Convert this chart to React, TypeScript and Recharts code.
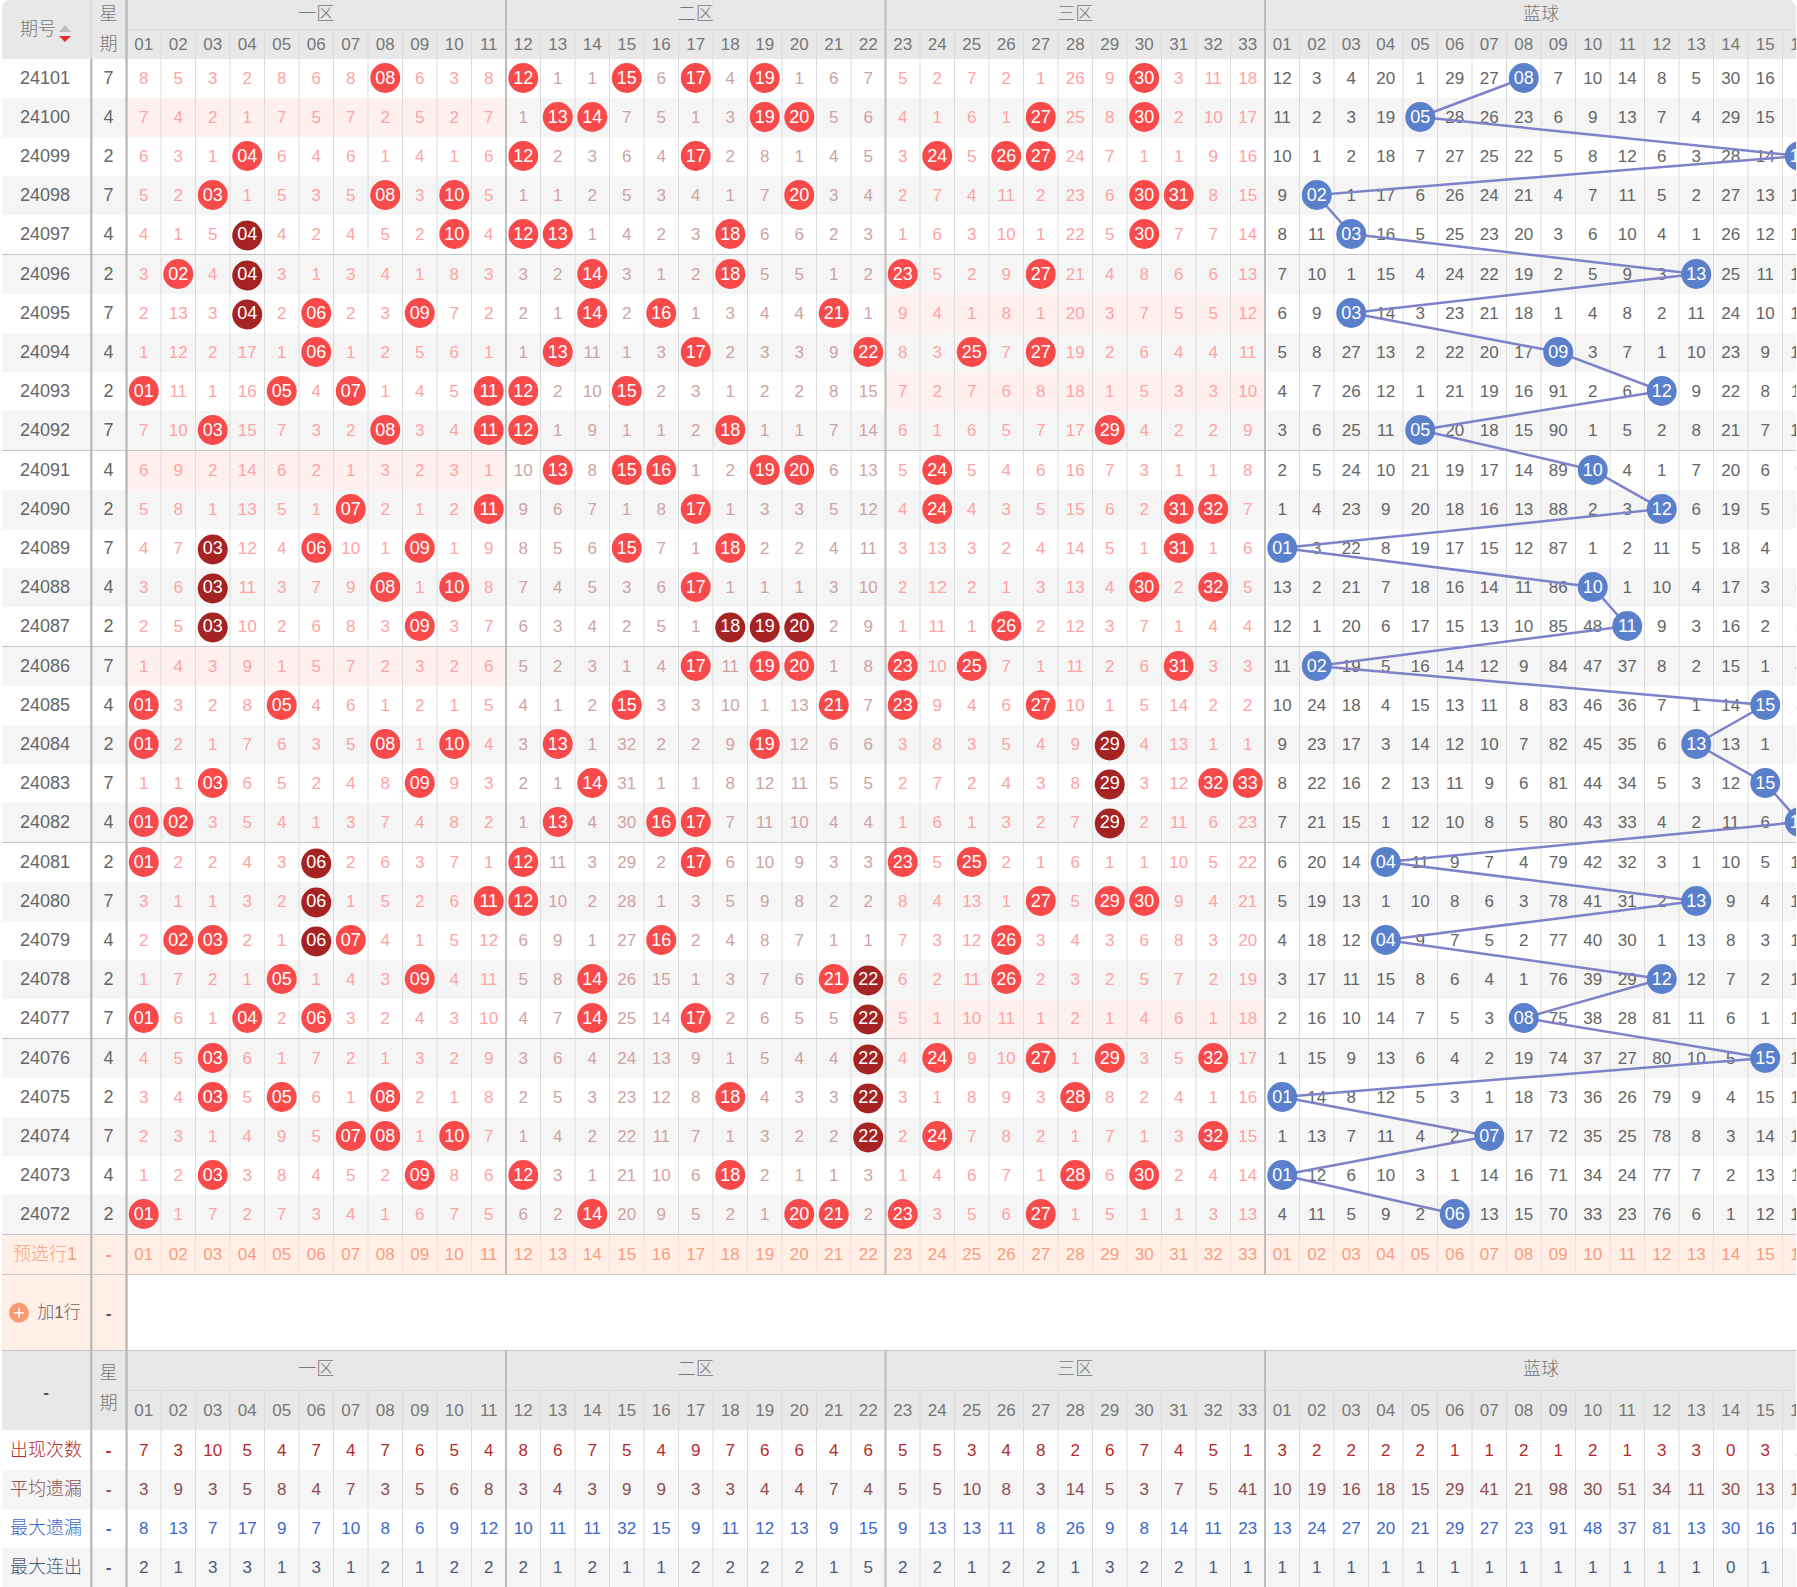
import { ScatterChart, Scatter, XAxis, YAxis, ReferenceArea, ReferenceLine } from 'recharts'

const issues = [24101, 24100, 24099, 24098, 24097, 24096, 24095, 24094, 24093, 24092, 24091, 24090, 24089, 24088, 24087, 24086, 24085, 24084, 24083, 24082, 24081, 24080, 24079, 24078, 24077, 24076, 24075, 24074, 24073, 24072]
const weekdays = [7, 4, 2, 7, 4, 2, 7, 4, 2, 7, 4, 2, 7, 4, 2, 7, 4, 2, 7, 4, 2, 7, 4, 2, 7, 4, 2, 7, 4, 2]

// missed-draw counts per issue, 0 means the number was drawn (a ball)
const zone1Rows = [
  [8, 5, 3, 2, 8, 6, 8, 0, 6, 3, 8],
  [7, 4, 2, 1, 7, 5, 7, 2, 5, 2, 7],
  [6, 3, 1, 0, 6, 4, 6, 1, 4, 1, 6],
  [5, 2, 0, 1, 5, 3, 5, 0, 3, 0, 5],
  [4, 1, 5, 0, 4, 2, 4, 5, 2, 0, 4],
  [3, 0, 4, 0, 3, 1, 3, 4, 1, 8, 3],
  [2, 13, 3, 0, 2, 0, 2, 3, 0, 7, 2],
  [1, 12, 2, 17, 1, 0, 1, 2, 5, 6, 1],
  [0, 11, 1, 16, 0, 4, 0, 1, 4, 5, 0],
  [7, 10, 0, 15, 7, 3, 2, 0, 3, 4, 0],
  [6, 9, 2, 14, 6, 2, 1, 3, 2, 3, 1],
  [5, 8, 1, 13, 5, 1, 0, 2, 1, 2, 0],
  [4, 7, 0, 12, 4, 0, 10, 1, 0, 1, 9],
  [3, 6, 0, 11, 3, 7, 9, 0, 1, 0, 8],
  [2, 5, 0, 10, 2, 6, 8, 3, 0, 3, 7],
  [1, 4, 3, 9, 1, 5, 7, 2, 3, 2, 6],
  [0, 3, 2, 8, 0, 4, 6, 1, 2, 1, 5],
  [0, 2, 1, 7, 6, 3, 5, 0, 1, 0, 4],
  [1, 1, 0, 6, 5, 2, 4, 8, 0, 9, 3],
  [0, 0, 3, 5, 4, 1, 3, 7, 4, 8, 2],
  [0, 2, 2, 4, 3, 0, 2, 6, 3, 7, 1],
  [3, 1, 1, 3, 2, 0, 1, 5, 2, 6, 0],
  [2, 0, 0, 2, 1, 0, 0, 4, 1, 5, 12],
  [1, 7, 2, 1, 0, 1, 4, 3, 0, 4, 11],
  [0, 6, 1, 0, 2, 0, 3, 2, 4, 3, 10],
  [4, 5, 0, 6, 1, 7, 2, 1, 3, 2, 9],
  [3, 4, 0, 5, 0, 6, 1, 0, 2, 1, 8],
  [2, 3, 1, 4, 9, 5, 0, 0, 1, 0, 7],
  [1, 2, 0, 3, 8, 4, 5, 2, 0, 8, 6],
  [0, 1, 7, 2, 7, 3, 4, 1, 6, 7, 5],
]

const zone2Rows = [
  [0, 1, 1, 0, 6, 0, 4, 0, 1, 6, 7],
  [1, 0, 0, 7, 5, 1, 3, 0, 0, 5, 6],
  [0, 2, 3, 6, 4, 0, 2, 8, 1, 4, 5],
  [1, 1, 2, 5, 3, 4, 1, 7, 0, 3, 4],
  [0, 0, 1, 4, 2, 3, 0, 6, 6, 2, 3],
  [3, 2, 0, 3, 1, 2, 0, 5, 5, 1, 2],
  [2, 1, 0, 2, 0, 1, 3, 4, 4, 0, 1],
  [1, 0, 11, 1, 3, 0, 2, 3, 3, 9, 0],
  [0, 2, 10, 0, 2, 3, 1, 2, 2, 8, 15],
  [0, 1, 9, 1, 1, 2, 0, 1, 1, 7, 14],
  [10, 0, 8, 0, 0, 1, 2, 0, 0, 6, 13],
  [9, 6, 7, 1, 8, 0, 1, 3, 3, 5, 12],
  [8, 5, 6, 0, 7, 1, 0, 2, 2, 4, 11],
  [7, 4, 5, 3, 6, 0, 1, 1, 1, 3, 10],
  [6, 3, 4, 2, 5, 1, 0, 0, 0, 2, 9],
  [5, 2, 3, 1, 4, 0, 11, 0, 0, 1, 8],
  [4, 1, 2, 0, 3, 3, 10, 1, 13, 0, 7],
  [3, 0, 1, 32, 2, 2, 9, 0, 12, 6, 6],
  [2, 1, 0, 31, 1, 1, 8, 12, 11, 5, 5],
  [1, 0, 4, 30, 0, 0, 7, 11, 10, 4, 4],
  [0, 11, 3, 29, 2, 0, 6, 10, 9, 3, 3],
  [0, 10, 2, 28, 1, 3, 5, 9, 8, 2, 2],
  [6, 9, 1, 27, 0, 2, 4, 8, 7, 1, 1],
  [5, 8, 0, 26, 15, 1, 3, 7, 6, 0, 0],
  [4, 7, 0, 25, 14, 0, 2, 6, 5, 5, 0],
  [3, 6, 4, 24, 13, 9, 1, 5, 4, 4, 0],
  [2, 5, 3, 23, 12, 8, 0, 4, 3, 3, 0],
  [1, 4, 2, 22, 11, 7, 1, 3, 2, 2, 0],
  [0, 3, 1, 21, 10, 6, 0, 2, 1, 1, 3],
  [6, 2, 0, 20, 9, 5, 2, 1, 0, 0, 2],
]

const zone3Rows = [
  [5, 2, 7, 2, 1, 26, 9, 0, 3, 11, 18],
  [4, 1, 6, 1, 0, 25, 8, 0, 2, 10, 17],
  [3, 0, 5, 0, 0, 24, 7, 1, 1, 9, 16],
  [2, 7, 4, 11, 2, 23, 6, 0, 0, 8, 15],
  [1, 6, 3, 10, 1, 22, 5, 0, 7, 7, 14],
  [0, 5, 2, 9, 0, 21, 4, 8, 6, 6, 13],
  [9, 4, 1, 8, 1, 20, 3, 7, 5, 5, 12],
  [8, 3, 0, 7, 0, 19, 2, 6, 4, 4, 11],
  [7, 2, 7, 6, 8, 18, 1, 5, 3, 3, 10],
  [6, 1, 6, 5, 7, 17, 0, 4, 2, 2, 9],
  [5, 0, 5, 4, 6, 16, 7, 3, 1, 1, 8],
  [4, 0, 4, 3, 5, 15, 6, 2, 0, 0, 7],
  [3, 13, 3, 2, 4, 14, 5, 1, 0, 1, 6],
  [2, 12, 2, 1, 3, 13, 4, 0, 2, 0, 5],
  [1, 11, 1, 0, 2, 12, 3, 7, 1, 4, 4],
  [0, 10, 0, 7, 1, 11, 2, 6, 0, 3, 3],
  [0, 9, 4, 6, 0, 10, 1, 5, 14, 2, 2],
  [3, 8, 3, 5, 4, 9, 0, 4, 13, 1, 1],
  [2, 7, 2, 4, 3, 8, 0, 3, 12, 0, 0],
  [1, 6, 1, 3, 2, 7, 0, 2, 11, 6, 23],
  [0, 5, 0, 2, 1, 6, 1, 1, 10, 5, 22],
  [8, 4, 13, 1, 0, 5, 0, 0, 9, 4, 21],
  [7, 3, 12, 0, 3, 4, 3, 6, 8, 3, 20],
  [6, 2, 11, 0, 2, 3, 2, 5, 7, 2, 19],
  [5, 1, 10, 11, 1, 2, 1, 4, 6, 1, 18],
  [4, 0, 9, 10, 0, 1, 0, 3, 5, 0, 17],
  [3, 1, 8, 9, 3, 0, 8, 2, 4, 1, 16],
  [2, 0, 7, 8, 2, 1, 7, 1, 3, 0, 15],
  [1, 4, 6, 7, 1, 0, 6, 0, 2, 4, 14],
  [0, 3, 5, 6, 0, 1, 5, 1, 1, 3, 13],
]

const blueRows = [
  [12, 3, 4, 20, 1, 29, 27, 0, 7, 10, 14, 8, 5, 30, 16, 2],
  [11, 2, 3, 19, 0, 28, 26, 23, 6, 9, 13, 7, 4, 29, 15, 1],
  [10, 1, 2, 18, 7, 27, 25, 22, 5, 8, 12, 6, 3, 28, 14, 0],
  [9, 0, 1, 17, 6, 26, 24, 21, 4, 7, 11, 5, 2, 27, 13, 16],
  [8, 11, 0, 16, 5, 25, 23, 20, 3, 6, 10, 4, 1, 26, 12, 15],
  [7, 10, 1, 15, 4, 24, 22, 19, 2, 5, 9, 3, 0, 25, 11, 14],
  [6, 9, 0, 14, 3, 23, 21, 18, 1, 4, 8, 2, 11, 24, 10, 13],
  [5, 8, 27, 13, 2, 22, 20, 17, 0, 3, 7, 1, 10, 23, 9, 12],
  [4, 7, 26, 12, 1, 21, 19, 16, 91, 2, 6, 0, 9, 22, 8, 11],
  [3, 6, 25, 11, 0, 20, 18, 15, 90, 1, 5, 2, 8, 21, 7, 10],
  [2, 5, 24, 10, 21, 19, 17, 14, 89, 0, 4, 1, 7, 20, 6, 9],
  [1, 4, 23, 9, 20, 18, 16, 13, 88, 2, 3, 0, 6, 19, 5, 8],
  [0, 3, 22, 8, 19, 17, 15, 12, 87, 1, 2, 11, 5, 18, 4, 7],
  [13, 2, 21, 7, 18, 16, 14, 11, 86, 0, 1, 10, 4, 17, 3, 6],
  [12, 1, 20, 6, 17, 15, 13, 10, 85, 48, 0, 9, 3, 16, 2, 5],
  [11, 0, 19, 5, 16, 14, 12, 9, 84, 47, 37, 8, 2, 15, 1, 4],
  [10, 24, 18, 4, 15, 13, 11, 8, 83, 46, 36, 7, 1, 14, 0, 3],
  [9, 23, 17, 3, 14, 12, 10, 7, 82, 45, 35, 6, 0, 13, 1, 2],
  [8, 22, 16, 2, 13, 11, 9, 6, 81, 44, 34, 5, 3, 12, 0, 1],
  [7, 21, 15, 1, 12, 10, 8, 5, 80, 43, 33, 4, 2, 11, 6, 0],
  [6, 20, 14, 0, 11, 9, 7, 4, 79, 42, 32, 3, 1, 10, 5, 19],
  [5, 19, 13, 1, 10, 8, 6, 3, 78, 41, 31, 2, 0, 9, 4, 18],
  [4, 18, 12, 0, 9, 7, 5, 2, 77, 40, 30, 1, 13, 8, 3, 17],
  [3, 17, 11, 15, 8, 6, 4, 1, 76, 39, 29, 0, 12, 7, 2, 16],
  [2, 16, 10, 14, 7, 5, 3, 0, 75, 38, 28, 81, 11, 6, 1, 15],
  [1, 15, 9, 13, 6, 4, 2, 19, 74, 37, 27, 80, 10, 5, 0, 14],
  [0, 14, 8, 12, 5, 3, 1, 18, 73, 36, 26, 79, 9, 4, 15, 13],
  [1, 13, 7, 11, 4, 2, 0, 17, 72, 35, 25, 78, 8, 3, 14, 12],
  [0, 12, 6, 10, 3, 1, 14, 16, 71, 34, 24, 77, 7, 2, 13, 11],
  [4, 11, 5, 9, 2, 0, 13, 15, 70, 33, 23, 76, 6, 1, 12, 10],
]

// [issue, red number] drawn as a dark ball
const darkBalls = [[24097, 4], [24096, 4], [24095, 4], [24089, 3], [24088, 3], [24087, 3], [24087, 18], [24087, 19], [24087, 20], [24084, 29], [24083, 29], [24082, 29], [24081, 6], [24080, 6], [24079, 6], [24078, 22], [24077, 22], [24076, 22], [24075, 22], [24074, 22]]

const redNumbers = ['01', '02', '03', '04', '05', '06', '07', '08', '09', '10', '11', '12', '13', '14', '15', '16', '17', '18', '19', '20', '21', '22', '23', '24', '25', '26', '27', '28', '29', '30', '31', '32', '33']
const blueNumbers = ['01', '02', '03', '04', '05', '06', '07', '08', '09', '10', '11', '12', '13', '14', '15', '16']
const zoneNames = ['一区', '二区', '三区', '蓝球']

const statLabels = ['出现次数', '平均遗漏', '最大遗漏', '最大连出']
const statColors = ['#b52a2a', '#8c4f4f', '#3b68cc', '#4f5a78']
const appearCounts = [7, 3, 10, 5, 4, 7, 4, 7, 6, 5, 4, 8, 6, 7, 5, 4, 9, 7, 6, 6, 4, 6, 5, 5, 3, 4, 8, 2, 6, 7, 4, 5, 1, 3, 2, 2, 2, 2, 1, 1, 2, 1, 2, 1, 3, 3, 0, 3, 2]
const avgMisses = [3, 9, 3, 5, 8, 4, 7, 3, 5, 6, 8, 3, 4, 3, 9, 9, 3, 3, 4, 4, 7, 4, 5, 5, 10, 8, 3, 14, 5, 3, 7, 5, 41, 10, 19, 16, 18, 15, 29, 41, 21, 98, 30, 51, 34, 11, 30, 13, 10]
const maxMisses = [8, 13, 7, 17, 9, 7, 10, 8, 6, 9, 12, 10, 11, 11, 32, 15, 9, 11, 12, 13, 9, 15, 9, 13, 13, 11, 8, 26, 9, 8, 14, 11, 23, 13, 24, 27, 20, 21, 29, 27, 23, 91, 48, 37, 81, 13, 30, 16, 19]
const maxRuns = [2, 1, 3, 3, 1, 3, 1, 2, 1, 2, 2, 2, 1, 2, 1, 1, 2, 2, 2, 2, 1, 5, 2, 2, 1, 2, 2, 1, 3, 2, 2, 1, 1, 1, 1, 1, 1, 1, 1, 1, 1, 1, 1, 1, 1, 1, 0, 1, 1]
const statValues = [appearCounts, avgMisses, maxMisses, maxRuns]

// table geometry in page pixels, everything below goes through the chart scales
const CHART_W = 1840
const CHART_H = 1587
const COL_W = 34.5
const COL_LEFT = 126.5
const ROW_H = 39
const FONT = "'Liberation Sans', 'Noto Sans CJK SC', sans-serif"

const xAt = (px: number) => (px - COL_LEFT) / COL_W
const yAt = (px: number) => px / ROW_H
const rowTopPx = (i: number) => 59 + ROW_H * i + Math.floor(i / 5)
const rowY = (i: number) => yAt(rowTopPx(i) + 19)

const allColumns = [...redNumbers, ...blueNumbers]
const colTicks = allColumns.map((_, c) => c + 0.5)
const rowTicks = issues.map((_, i) => rowY(i))
const zoneCenters = [5.5, 16.5, 27.5, 41]
const zoneEdges = [11, 22, 33]
const rowsFull = (i: number) => [...zone1Rows[i], ...zone2Rows[i], ...zone3Rows[i]]

const textShape = (fill: string, size: number, weight = 400) => (p: any) => (
  <text x={p.cx} y={p.cy} textAnchor="middle" dominantBaseline="central" fill={p.payload.fill || fill} fontSize={p.payload.size || size} fontWeight={p.payload.weight || weight} fontFamily={FONT}>
    {p.payload.label}
  </text>
)

const ballShape = (fill: string) => (p: any) => {
  const cy = p.payload.dark ? p.cy + 1.5 : p.cy
  return (
    <g>
      <circle cx={p.cx} cy={cy} r={15} fill={p.payload.dark ? '#a52323' : fill} />
      <text x={p.cx} y={p.cy} textAnchor="middle" dominantBaseline="central" fill="#fff" fontSize={18} fontFamily={FONT}>
        {p.payload.label}
      </text>
    </g>
  )
}

const sortIcon = (p: any) => (
  <g>
    <polygon points={`${p.cx - 6},${p.cy + 6} ${p.cx + 6},${p.cy + 6} ${p.cx},${p.cy - 1}`} fill="#bdbdbd" />
    <polygon points={`${p.cx - 6},${p.cy + 10} ${p.cx + 6},${p.cy + 10} ${p.cx},${p.cy + 16}`} fill="#e0302c" />
  </g>
)

const plusIcon = (p: any) => (
  <g>
    <circle cx={p.cx} cy={p.cy} r={10} fill="#fb9a72" />
    <path d={`M${p.cx - 5} ${p.cy}H${p.cx + 5}M${p.cx} ${p.cy - 5}V${p.cy + 5}`} stroke="#fff" strokeWidth={1.6} />
  </g>
)

const columnTick = (p: any) => (
  <text x={p.x} y={44.5} textAnchor="middle" dominantBaseline="central" fill="#777" fontSize={17} fontFamily={FONT}>
    {allColumns[p.index]}
  </text>
)

const issueTick = (p: any) => (
  <text x={45} y={p.y} textAnchor="middle" dominantBaseline="central" fill="#666" fontSize={18} fontFamily={FONT}>
    {issues[p.index]}
  </text>
)

const zone1Cells = issues.flatMap((_, i) => zone1Rows[i].map((v, c) => ({ x: c + 0.5, y: rowY(i), v, label: String(v) }))).filter((d) => d.v > 0)
const zone2Cells = issues.flatMap((_, i) => zone2Rows[i].map((v, c) => ({ x: c + 11.5, y: rowY(i), v, label: String(v) }))).filter((d) => d.v > 0)
const zone3Cells = issues.flatMap((_, i) => zone3Rows[i].map((v, c) => ({ x: c + 22.5, y: rowY(i), v, label: String(v) }))).filter((d) => d.v > 0)
const blueCells = issues.flatMap((_, i) => blueRows[i].map((v, c) => ({ x: c + 33.5, y: rowY(i), v, label: String(v) }))).filter((d) => d.v > 0)

const redBalls = issues.flatMap((issue, i) =>
  rowsFull(i).flatMap((v, c) =>
    v === 0 ? [{ x: c + 0.5, y: rowY(i), label: redNumbers[c], dark: darkBalls.some(([a, b]) => a === issue && b === c + 1) }] : [],
  ),
)
const blueBalls = issues.map((_, i) => {
  const c = blueRows[i].indexOf(0)
  return { x: c + 33.5, y: rowY(i), label: blueNumbers[c] }
})

const weekdayCells = issues.map((_, i) => ({ x: xAt(108.5), y: rowY(i), label: String(weekdays[i]) }))
const CJK = { weight: 300, size: 18 }
const DASH = { weight: 700 }
const headerTexts = [
  { x: xAt(38), y: yAt(29), label: '期号', ...CJK },
  { x: xAt(108.5), y: yAt(14), label: '星', ...CJK },
  { x: xAt(108.5), y: yAt(44), label: '期', ...CJK },
  ...zoneNames.map((label, z) => ({ x: zoneCenters[z], y: yAt(14), label, fill: '#777', ...CJK })),
  { x: xAt(46), y: yAt(1392), label: '-', fill: '#555', ...DASH },
  { x: xAt(108.5), y: yAt(1373), label: '星', ...CJK },
  { x: xAt(108.5), y: yAt(1403), label: '期', ...CJK },
  ...zoneNames.map((label, z) => ({ x: zoneCenters[z], y: yAt(1369), label, fill: '#777', ...CJK })),
  ...allColumns.map((label, c) => ({ x: c + 0.5, y: yAt(1410), label })),
]
const preselectTexts = [
  { x: xAt(45), y: yAt(1254), label: '预选行1', ...CJK },
  { x: xAt(108.5), y: yAt(1254), label: '-', ...DASH },
  { x: xAt(108.5), y: yAt(1313), label: '-', fill: '#555', ...DASH },
  ...allColumns.map((label, c) => ({ x: c + 0.5, y: yAt(1254), label })),
]
const statTexts = statLabels.flatMap((label, r) => {
  const y = yAt(1450 + r * 39)
  return [
    { x: xAt(46), y, label, fill: statColors[r], ...CJK },
    { x: xAt(108.5), y, label: '-', fill: statColors[r], ...DASH },
    ...statValues[r].map((v, c) => ({ x: c + 0.5, y, label: String(v), fill: statColors[r] })),
  ]
})

// a zone with no drawn number in the issue gets a pink band
const emptyZones = issues.flatMap((_, i) =>
  [zone1Rows[i], zone2Rows[i], zone3Rows[i]].flatMap((row, z) => (row.includes(0) ? [] : [{ i, z }])),
)

const band = (key: string, x1: number, x2: number, top: number, bottom: number, fill: string) => (
  <ReferenceArea key={key} x1={x1} x2={x2} y1={yAt(top)} y2={yAt(bottom)} fill={fill} fillOpacity={1} stroke="none" ifOverflow="visible" />
)

const vLine = (key: string, x: number, top: number, bottom: number, stroke: string, width = 1) => (
  <ReferenceLine key={key} segment={[{ x, y: yAt(top) }, { x, y: yAt(bottom) }]} stroke={stroke} strokeWidth={width} ifOverflow="visible" />
)

const hLine = (key: string, px: number, stroke: string, x1 = xAt(0), x2 = 60) => (
  <ReferenceLine key={key} segment={[{ x: x1, y: yAt(px) }, { x: x2, y: yAt(px) }]} stroke={stroke} strokeWidth={1} ifOverflow="visible" />
)

const innerCols = allColumns.map((_, c) => c).filter((c) => c > 0 && !zoneEdges.includes(c)).concat(48)

export default function App() {
  return (
    <div style={{ position: 'absolute', left: 2, top: 0, width: 1794, height: CHART_H, overflow: 'hidden', borderRadius: '8px 8px 0 0' }}>
      <div style={{ position: 'absolute', left: -2, top: 0 }}>
        <ScatterChart width={CHART_W} height={CHART_H} margin={{ top: 0, right: 0, bottom: 0, left: 0 }}>
          <XAxis
            type="number"
            dataKey="x"
            orientation="top"
            mirror
            domain={[xAt(0), xAt(CHART_W)]}
            allowDataOverflow
            ticks={colTicks}
            interval={0}
            axisLine={false}
            tickLine={false}
            tick={columnTick}
          />
          <YAxis
            type="number"
            dataKey="y"
            reversed
            mirror
            domain={[0, yAt(CHART_H)]}
            allowDataOverflow
            ticks={rowTicks}
            interval={0}
            axisLine={false}
            tickLine={false}
            tick={issueTick}
          />

          {band('head', xAt(0), xAt(CHART_W), 0, 59, '#e8e8e8')}
          {issues.map((_, i) => band(`row${i}`, xAt(0), xAt(CHART_W), rowTopPx(i), rowTopPx(i) + 39.5, i % 2 ? '#f5f5f5' : '#ffffff'))}
          {emptyZones.map(({ i, z }) => band(`pink${i}-${z}`, z * 11, z * 11 + 11, rowTopPx(i), rowTopPx(i) + 39, '#fff0f0'))}
          {band('pre', xAt(0), xAt(CHART_W), 1234.5, 1274.5, '#ffefe7')}
          {band('add', xAt(0), 0, 1274.5, 1350.5, '#ffefe7')}
          {band('foot', xAt(0), xAt(CHART_W), 1350.5, 1430, '#e8e8e8')}
          {statLabels.map((_, r) => band(`stat${r}`, xAt(0), xAt(CHART_W), 1431 + r * 39, 1470 + r * 39, r % 2 ? '#f5f5f5' : '#ffffff'))}

          {[254.5, 450.5, 646.5, 842.5, 1038.5, 1234.5, 1274.5, 1350.5].map((px) => hLine(`h${px}`, px, '#c6c6c6'))}
          {hLine('zoneRowTop', 29.5, '#dcdcdc', 0)}
          {hLine('zoneRowFoot', 1390.5, '#dcdcdc', 0)}

          {innerCols.map((c) => vLine(`c${c}`, c, 30, 1234, '#dcdcdc'))}
          {innerCols.map((c) => vLine(`p${c}`, c, 1235, 1274, '#f6dfd5'))}
          {innerCols.map((c) => vLine(`f${c}`, c, 1391, CHART_H, '#dcdcdc'))}
          {zoneEdges.map((c) => vLine(`z${c}`, c, 0, 1274, '#bdbdbd', 2))}
          {zoneEdges.map((c) => vLine(`zf${c}`, c, 1350, CHART_H, '#bdbdbd', 2))}
          {vLine('sep1Head', xAt(91), 0, 59, '#dcdcdc', 2)}
          {vLine('sep1', xAt(91.3), 59, 1350, '#bdbdbd', 2.5)}
          {vLine('sep1Foot', xAt(91.3), 1350, CHART_H, '#bdbdbd', 2.5)}
          {vLine('sep2', xAt(126.5), 0, CHART_H, '#bdbdbd', 2.5)}

          <Scatter data={zone1Cells} shape={textShape('#ffa3a3', 17)} isAnimationActive={false} />
          <Scatter data={zone2Cells} shape={textShape('#cfa3a3', 17)} isAnimationActive={false} />
          <Scatter data={zone3Cells} shape={textShape('#ffa3a3', 17)} isAnimationActive={false} />
          <Scatter data={blueCells} shape={textShape('#666666', 17)} isAnimationActive={false} />
          <Scatter data={weekdayCells} shape={textShape('#666666', 18)} isAnimationActive={false} />
          <Scatter data={headerTexts} shape={textShape('#777777', 17)} isAnimationActive={false} />
          <Scatter data={preselectTexts} shape={textShape('#fa9d7f', 17)} isAnimationActive={false} />
          <Scatter data={statTexts} shape={textShape('#666666', 17)} isAnimationActive={false} />
          <Scatter data={[{ x: xAt(59), y: yAt(1312), label: '加1行', weight: 300 }]} shape={textShape('#666666', 17)} isAnimationActive={false} />
          <Scatter data={[{ x: xAt(65), y: yAt(26) }]} shape={sortIcon} isAnimationActive={false} />
          <Scatter data={[{ x: xAt(19), y: yAt(1312.7) }]} shape={plusIcon} isAnimationActive={false} />

          <Scatter data={redBalls} shape={ballShape('#f84a4a')} isAnimationActive={false} />
          <Scatter
            data={blueBalls}
            line={{ stroke: '#7f82c9', strokeWidth: 2.5 }}
            shape={ballShape('#5b80cb')}
            isAnimationActive={false}
          />
        </ScatterChart>
      </div>
    </div>
  )
}
